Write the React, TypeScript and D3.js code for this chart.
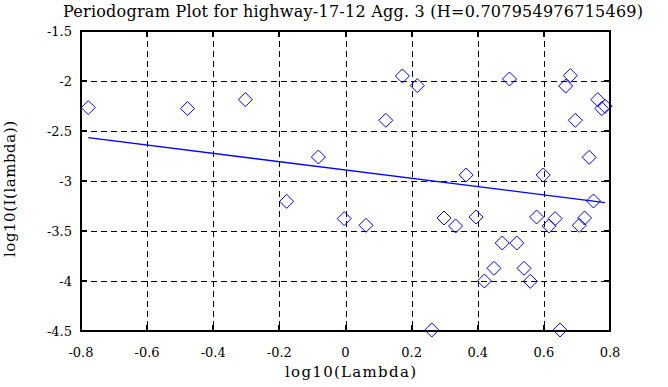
import React, { useEffect, useRef } from 'react';
import * as d3 from 'd3';

// log10(lambda) and log10(I(lambda))
const logLambda = [
  -0.778, -0.478, -0.303, -0.082, -0.178, -0.004, 0.062, 0.122, 0.172, 0.217,
  0.261, 0.298, 0.333, 0.365, 0.395, 0.42, 0.449, 0.474, 0.496, 0.518,
  0.54, 0.559, 0.578, 0.598, 0.616, 0.634, 0.649, 0.666, 0.68, 0.695,
  0.707, 0.723, 0.737, 0.75, 0.763, 0.775, 0.785,
];
const logI = [
  -2.266, -2.276, -2.186, -2.76, -3.203, -3.376, -3.443, -2.393, -1.95, -2.046,
  -4.49, -3.37, -3.45, -2.94, -3.36, -4.0, -3.873, -3.62, -1.98, -3.62,
  -3.873, -4.003, -3.36, -2.94, -3.45, -3.376, -4.49, -2.05, -1.946, -2.393,
  -3.443, -3.37, -2.763, -3.2, -2.186, -2.276, -2.253,
];

// least squares fit: slope = 1 - 2H
const hurst = 0.707954976715469;
const fitSlope = 1 - 2 * hurst;
const fitIntercept = -2.89;

const xTicks = [-0.8, -0.6, -0.4, -0.2, 0, 0.2, 0.4, 0.6, 0.8];
const yTicks = [-1.5, -2, -2.5, -3, -3.5, -4, -4.5];

const title = 'Periodogram Plot for highway-17-12 Agg. 3 (H=0.707954976715469)';

const App = () => {
  const svgRef = useRef<SVGSVGElement>(null);

  useEffect(() => {
    const root = d3.select(svgRef.current);
    root.selectAll('*').remove();

    const left = 81, right = 610, top = 31, bottom = 331;

    const x = d3.scaleLinear().domain([-0.8, 0.8]).range([left, right]);
    const y = d3.scaleLinear().domain([-4.5, -1.5]).range([bottom, top]);

    root.append('rect')
      .attr('width', 668).attr('height', 387).attr('fill', 'white');

    // grid
    const grid = root.append('g')
      .attr('stroke', 'black')
      .attr('stroke-width', 1)
      .attr('stroke-dasharray', '6,4')
      .attr('shape-rendering', 'crispEdges');
    grid.selectAll('.gx')
      .data(xTicks.slice(1, -1))
      .join('line')
      .attr('x1', d => Math.round(x(d)) + 0.5).attr('x2', d => Math.round(x(d)) + 0.5)
      .attr('y1', top).attr('y2', bottom);
    grid.selectAll('.gy')
      .data(yTicks.slice(1, -1))
      .join('line')
      .attr('y1', d => Math.round(y(d)) + 0.5).attr('y2', d => Math.round(y(d)) + 0.5)
      .attr('x1', left).attr('x2', right);

    // tick marks on all four sides
    const ticks = root.append('g')
      .attr('stroke', 'black')
      .attr('stroke-width', 2)
      .attr('shape-rendering', 'crispEdges');
    xTicks.forEach(t => {
      ticks.append('line').attr('x1', x(t)).attr('x2', x(t)).attr('y1', bottom).attr('y2', bottom - 6);
      ticks.append('line').attr('x1', x(t)).attr('x2', x(t)).attr('y1', top).attr('y2', top + 6);
    });
    yTicks.forEach(t => {
      ticks.append('line').attr('y1', y(t)).attr('y2', y(t)).attr('x1', left).attr('x2', left + 6);
      ticks.append('line').attr('y1', y(t)).attr('y2', y(t)).attr('x1', right).attr('x2', right - 6);
    });

    // fit line
    const fitX = [d3.min(logLambda)!, d3.max(logLambda)!];
    root.append('path')
      .datum(fitX)
      .attr('fill', 'none')
      .attr('stroke', '#0000ff')
      .attr('stroke-width', 1.3)
      .attr('d', d3.line<number>()
        .x(d => x(d))
        .y(d => y(fitIntercept + fitSlope * d)));

    // diamonds
    const pts = logLambda.map((v, i) => ({ lx: v, li: logI[i] }));
    root.append('g')
      .selectAll('path')
      .data(pts)
      .join('path')
      .attr('transform', d => `translate(${x(d.lx)},${y(d.li)})`)
      .attr('d', 'M0,-7L7,0L0,7L-7,0Z')
      .attr('fill', 'none')
      .attr('stroke', '#0000ff')
      .attr('stroke-width', 1);

    // axes box
    root.append('rect')
      .attr('x', left).attr('y', top)
      .attr('width', right - left).attr('height', bottom - top)
      .attr('fill', 'none')
      .attr('stroke', 'black')
      .attr('stroke-width', 2);

    // all text in a serif face, like the original
    const txt = root.append('g')
      .attr('font-family', "'DejaVu Serif', serif")
      .attr('fill', 'black');

    txt.append('g')
      .selectAll('text')
      .data(xTicks)
      .join('text')
      .attr('x', d => x(d))
      .attr('y', 357)
      .attr('text-anchor', 'middle')
      .attr('font-size', 13)
      .text(d => d3.format('')(d).replace('−', '-'));

    txt.append('g')
      .selectAll('text')
      .data(yTicks)
      .join('text')
      .attr('x', 72)
      .attr('y', d => y(d) + 5)
      .attr('text-anchor', 'end')
      .attr('font-size', 13)
      .text(d => d3.format('')(d).replace('−', '-'));

    txt.append('text')
      .attr('x', 350.5)
      .attr('y', 377)
      .attr('text-anchor', 'middle')
      .attr('textLength', 131)
      .attr('lengthAdjust', 'spacing')
      .attr('font-size', 15)
      .text('log10(Lambda)');

    txt.append('text')
      .attr('transform', 'translate(15,189) rotate(-90)')
      .attr('text-anchor', 'middle')
      .attr('textLength', 136)
      .attr('lengthAdjust', 'spacing')
      .attr('font-size', 15)
      .text('log10(I(lambda))');

    txt.append('text')
      .attr('x', 353)
      .attr('y', 17)
      .attr('text-anchor', 'middle')
      .attr('textLength', 580)
      .attr('lengthAdjust', 'spacing')
      .attr('font-size', 16)
      .text(title);
  }, []);

  return (
    <svg ref={svgRef} width={668} height={387}
      style={{ position: 'absolute', left: 0, top: 0 }} />
  );
};

export default App;
